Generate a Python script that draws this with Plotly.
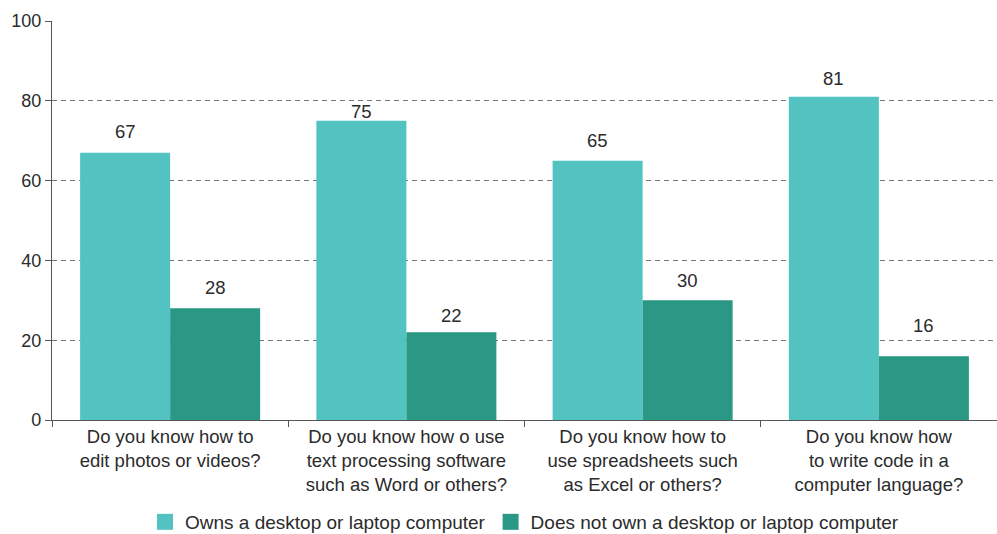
import plotly.graph_objects as go

# Survey questions (category axis) and the two groups of respondents
questions = [
    "Do you know how to<br>edit photos or videos?",
    "Do you know how o use<br>text processing software<br>such as Word or others?",
    "Do you know how to<br>use spreadsheets such<br>as Excel or others?",
    "Do you know how<br>to write code in a<br>computer language?",
]
series_names = [
    "Owns a desktop or laptop computer",
    "Does not own a desktop or laptop computer",
]
owns_computer = [67, 75, 65, 81]
no_computer = [28, 22, 30, 16]
y_ticks = [0, 20, 40, 60, 80, 100]

# Styling
colors = ["#53C3C2", "#2A9884"]
text_color = "#2b2b2b"
font_family = "Liberation Sans, Arial, sans-serif"
W, H = 997, 534
margin = dict(l=52, r=0, t=21, b=114, autoexpand=False)
bargap = 0.238
# vertical lift (px) of each value label's centre above its bar top
lift_owns = [21, 9, 20, 18]
lift_none = [21, 17, 20, 31]

fig = go.Figure()
for name, vals, col in zip(series_names, [owns_computer, no_computer], colors):
    fig.add_trace(go.Bar(
        x=questions, y=vals, name=name, marker=dict(color=col, line=dict(width=0)),
        showlegend=False, hoverinfo="y",
    ))
    # square legend swatch
    fig.add_trace(go.Scatter(
        x=[None], y=[None], mode="markers", name=name,
        marker=dict(symbol="square", size=16, color=col),
    ))

# value labels above each bar
plot_w = W - margin["l"] - margin["r"]
cat_px = plot_w / len(questions)
half_offset = (1 - bargap) * cat_px / 4
for vals, lifts, sign in [(owns_computer, lift_owns, -1), (no_computer, lift_none, 1)]:
    for q, v, lift in zip(questions, vals, lifts):
        fig.add_annotation(
            x=q, y=v, text=str(v), showarrow=False,
            xshift=sign * half_offset, yshift=lift, yanchor="middle",
            font=dict(size=18.5, color=text_color, family=font_family),
        )

fig.update_layout(
    width=W, height=H, margin=margin,
    paper_bgcolor="white", plot_bgcolor="white",
    barmode="group", bargap=bargap, bargroupgap=0,
    font=dict(family=font_family, size=19, color=text_color),
    legend=dict(
        orientation="h", x=0.5, xanchor="center", y=-0.2556, yanchor="middle",
        font=dict(size=19, color=text_color), itemsizing="trace",
        bgcolor="rgba(0,0,0,0)",
    ),
)
fig.update_xaxes(
    type="category", showline=True, linecolor="#555555", linewidth=1.3,
    ticks="outside", tickson="boundaries", ticklen=6, tickcolor="#555555",
    showgrid=False, tickfont=dict(size=18.5, color=text_color),
    range=[-0.5, len(questions) - 0.5], automargin=False,
)
fig.update_yaxes(
    range=[0, 100], tickvals=y_ticks, showline=True, linecolor="#555555", linewidth=1.3,
    ticks="outside", ticklen=6, tickcolor="#555555",
    showgrid=True, gridcolor="#777777", gridwidth=1, griddash="5px,4px",
    zeroline=False, tickfont=dict(size=18, color=text_color), automargin=False,
)

fig.write_html("out.html")
